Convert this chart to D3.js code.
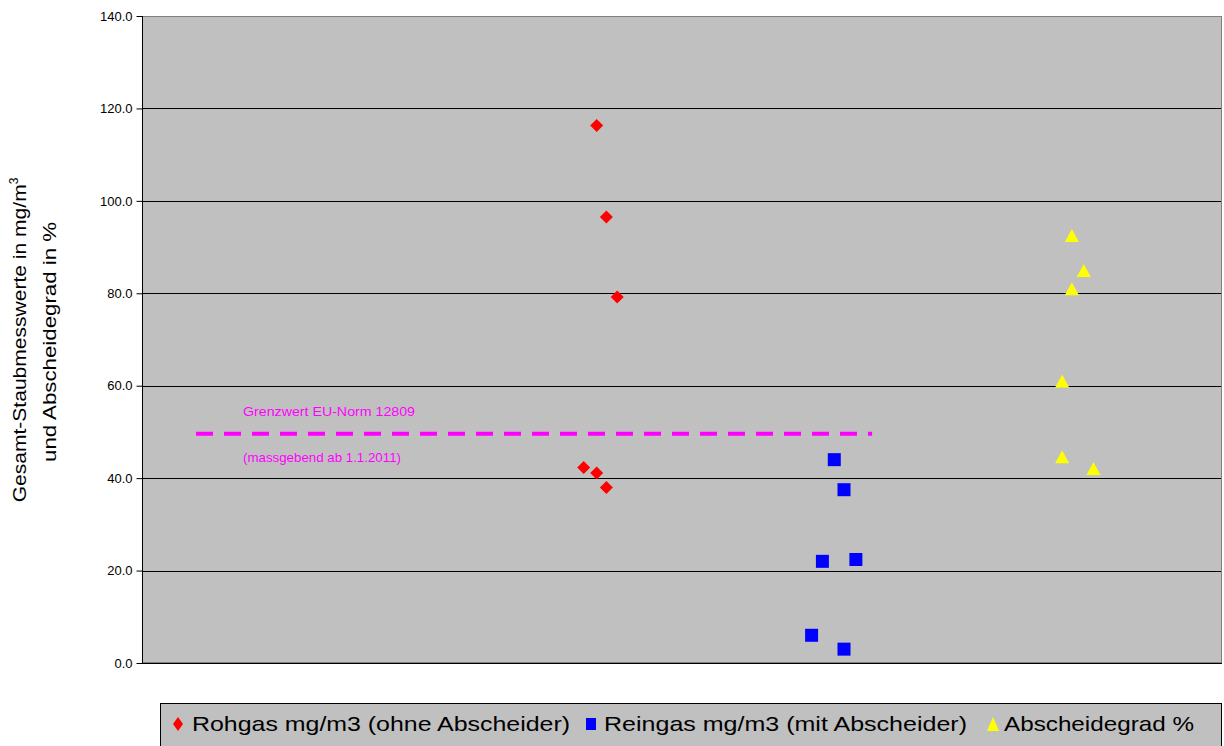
<!DOCTYPE html>
<html><head><meta charset="utf-8">
<script src="https://cdn.jsdelivr.net/npm/d3@7"></script>
<style>body{margin:0;background:#fff}svg{display:block;font-family:"Liberation Sans",Arial,sans-serif}</style>
</head><body>
<svg id="c" width="1224" height="746"></svg>
<script>
const yTicks = [0, 20, 40, 60, 80, 100, 120, 140];
const rohgasX = [42.1, 43.0, 44.0, 40.9, 42.1, 43.0];
const rohgasY = [116.3, 96.5, 79.2, 42.3, 41.1, 38.0];
const reingasX = [64.1, 65.0, 63.0, 66.1, 62.0, 65.0];
const reingasY = [44.0, 37.5, 22.0, 22.4, 6.0, 3.0];
const abscheidX = [86.1, 87.2, 86.1, 85.2, 85.2, 88.1];
const abscheidY = [92.4, 84.8, 80.9, 60.9, 44.5, 42.0];
const limitX = [5.0, 67.6];
const limitY = 49.6;
const seriesNames = ["Rohgas mg/m3 (ohne Abscheider)", "Reingas mg/m3 (mit Abscheider)", "Abscheidegrad %"];
const seriesColors = ["#FF0000", "#0000FF", "#FFFF00"];

const svg = d3.select("#c");
const L = 142, T = 16, R = 1222, B = 663;
const x = d3.scaleLinear().domain([0, 100]).range([L, R]);
const y = d3.scaleLinear().domain([0, 140]).range([B, T]);

svg.append("rect").attr("x", L).attr("y", T).attr("width", R - L).attr("height", B - T)
  .attr("fill", "#C0C0C0");

svg.append("g").selectAll("line").data(yTicks.slice(1)).join("line")
  .attr("x1", L).attr("x2", R).attr("y1", d => Math.round(y(d)) + 0.5).attr("y2", d => Math.round(y(d)) + 0.5)
  .attr("stroke", "#000").attr("stroke-width", 1);

svg.append("rect").attr("x", L + 0.5).attr("y", T + 0.5).attr("width", R - L - 1).attr("height", B - T - 1)
  .attr("fill", "none").attr("stroke", "#808080").attr("stroke-width", 1);
svg.append("line").attr("x1", L + 0.5).attr("x2", L + 0.5).attr("y1", T).attr("y2", B + 1).attr("stroke", "#000");
svg.append("line").attr("x1", L).attr("x2", R).attr("y1", B + 0.5).attr("y2", B + 0.5).attr("stroke", "#000");

const ay = svg.append("g").attr("transform", `translate(${L + 0.5},0)`)
  .call(d3.axisLeft(y).tickValues(yTicks).tickFormat(d3.format(".1f")).tickSize(6).tickSizeOuter(0));
ay.select(".domain").remove();
ay.selectAll("text").attr("font-size", 13).attr("font-family", "Liberation Sans, Arial, sans-serif").attr("fill", "#000").attr("dx", "-1");
ay.selectAll("line").attr("stroke", "#000");

const yt = svg.append("text").attr("transform", "translate(26,340) rotate(-90)")
  .attr("text-anchor", "middle").attr("font-size", 19).attr("fill", "#000");
yt.append("tspan").text("Gesamt-Staubmesswerte in mg/m").attr("textLength", 318).attr("lengthAdjust", "spacingAndGlyphs");
yt.append("tspan").attr("font-size", 12).attr("dy", -8).text("3");
svg.append("text").attr("transform", "translate(56,342) rotate(-90)")
  .attr("text-anchor", "middle").attr("font-size", 19).attr("fill", "#000")
  .attr("textLength", 240).attr("lengthAdjust", "spacingAndGlyphs").text("und Abscheidegrad in %");

svg.append("line").attr("x1", x(limitX[0])).attr("x2", x(limitX[1])).attr("y1", y(limitY)).attr("y2", y(limitY))
  .attr("stroke", "#FF00FF").attr("stroke-width", 4).attr("stroke-dasharray", "17,11");
svg.append("text").attr("x", 243).attr("y", y(limitY) - 18).attr("font-size", 13).attr("fill", "#FF00FF")
  .attr("textLength", 172).attr("lengthAdjust", "spacingAndGlyphs").text("Grenzwert EU-Norm 12809");
svg.append("text").attr("x", 243).attr("y", y(limitY) + 28).attr("font-size", 13).attr("fill", "#FF00FF")
  .attr("textLength", 158).attr("lengthAdjust", "spacingAndGlyphs").text("(massgebend ab 1.1.2011)");

function drawSeries(xs, ys, i) {
  svg.append("g").selectAll("path").data(xs.map((v, k) => [v, ys[k]])).join("path")
    .attr("transform", d => `translate(${x(d[0])},${y(d[1])})` + (i === 0 ? " rotate(45)" : ""))
    .attr("d", i === 0 ? "M-4.6,-4.6h9.2v9.2h-9.2z" : (i === 1 ? "M-6.5,-6.5h13v13h-13z" : "M0,-7L7,6H-7z"))
    .attr("fill", seriesColors[i]);
}
drawSeries(rohgasX, rohgasY, 0);
drawSeries(reingasX, reingasY, 1);
drawSeries(abscheidX, abscheidY, 2);

const lg = svg.append("g");
lg.append("rect").attr("x", 160.5).attr("y", 703.5).attr("width", 1061).attr("height", 50)
  .attr("fill", "#C0C0C0").attr("stroke", "#000").attr("stroke-width", 1);
const legX = [178, 591, 993];
const textX = [192, 604, 1004];
const textW = [378, 363, 190];
seriesNames.forEach((n, i) => {
  let d;
  if (i === 0) { d = "M0,-7L5,0L0,7L-5,0z"; }
  else if (i === 1) { d = "M-5,-6h10v12h-10z"; }
  else { d = "M0,-7L6,7H-6z"; }
  lg.append("path").attr("transform", `translate(${legX[i]},${724})`).attr("d", d).attr("fill", seriesColors[i]);
  lg.append("text").attr("x", textX[i]).attr("y", 731).attr("font-size", 21).attr("fill", "#000")
    .attr("textLength", textW[i]).attr("lengthAdjust", "spacingAndGlyphs").text(n);
});
</script>
</body></html>
